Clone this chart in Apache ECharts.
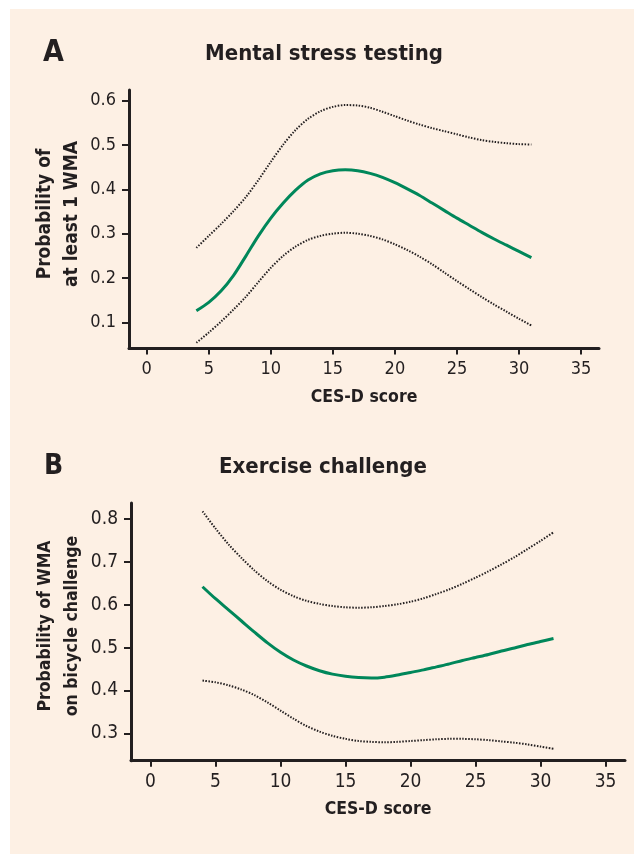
<!DOCTYPE html>
<html><head><meta charset="utf-8">
<script src="https://cdn.jsdelivr.net/npm/echarts@6/dist/echarts.min.js"></script>
<style>
html,body{margin:0;padding:0;background:#fff;}
#bg{position:absolute;left:10px;top:9px;width:624px;height:845px;background:#fdf0e4;}
#chart{position:absolute;left:0;top:0;width:634px;height:854px;}
</style></head><body>
<div id="bg"></div><div id="chart"></div>
<script>
const xTicks = [0, 5, 10, 15, 20, 25, 30, 35];
const yTicksA = [0.1, 0.2, 0.3, 0.4, 0.5, 0.6];
const yTicksB = [0.3, 0.4, 0.5, 0.6, 0.7, 0.8];
const cesd = [4, 5, 6, 7, 8, 9, 10, 11, 12, 13, 14, 15, 16, 17, 18, 19, 20, 21, 22, 23, 24, 25, 26, 27, 28, 29, 30, 31];
// Panel A: Mental stress testing
const upperA = [0.268, 0.295, 0.322, 0.351, 0.383, 0.421, 0.462, 0.501, 0.534, 0.559, 0.576, 0.586, 0.590, 0.589, 0.584, 0.575, 0.565, 0.555, 0.546, 0.538, 0.531, 0.524, 0.517, 0.511, 0.507, 0.504, 0.502, 0.501];
const probA  = [0.126, 0.145, 0.171, 0.206, 0.250, 0.295, 0.335, 0.369, 0.398, 0.421, 0.435, 0.442, 0.444, 0.442, 0.436, 0.427, 0.415, 0.401, 0.386, 0.369, 0.352, 0.335, 0.319, 0.303, 0.288, 0.274, 0.260, 0.246];
const lowerA = [0.054, 0.077, 0.102, 0.129, 0.158, 0.191, 0.223, 0.250, 0.271, 0.286, 0.295, 0.300, 0.302, 0.300, 0.295, 0.287, 0.276, 0.263, 0.248, 0.231, 0.212, 0.193, 0.175, 0.157, 0.140, 0.124, 0.108, 0.093];
// Panel B: Exercise challenge
const upperB = [0.818, 0.778, 0.741, 0.709, 0.680, 0.655, 0.635, 0.620, 0.609, 0.602, 0.597, 0.594, 0.593, 0.594, 0.597, 0.601, 0.607, 0.615, 0.625, 0.636, 0.649, 0.663, 0.678, 0.694, 0.711, 0.730, 0.749, 0.769];
const probB  = [0.642, 0.614, 0.588, 0.562, 0.536, 0.511, 0.489, 0.471, 0.457, 0.446, 0.438, 0.433, 0.430, 0.429, 0.431, 0.436, 0.442, 0.448, 0.455, 0.462, 0.470, 0.477, 0.484, 0.492, 0.499, 0.507, 0.514, 0.521];
const lowerB = [0.423, 0.419, 0.412, 0.402, 0.389, 0.372, 0.353, 0.334, 0.317, 0.304, 0.294, 0.287, 0.282, 0.280, 0.279, 0.280, 0.282, 0.284, 0.286, 0.287, 0.287, 0.286, 0.284, 0.281, 0.278, 0.274, 0.269, 0.264];

const FONT = '"Liberation Sans Narrow", "DejaVu Sans Condensed", "Liberation Sans", sans-serif';
const INK = '#231f20';
const GREEN = '#00875a';

function pts(xs, ys) { return xs.map((x, i) => [x, ys[i]]); }

function xAxisCfg(gi, min, max, fs) {
  return {
    type: 'value', gridIndex: gi, min: min, max: max,
    axisLine: { show: true, onZero: false, lineStyle: { color: INK, width: 3 } },
    axisTick: { show: true, customValues: xTicks, length: 6, lineStyle: { color: INK, width: 2 } },
    axisLabel: { customValues: xTicks, margin: 12, fontSize: fs, color: INK, fontFamily: FONT },
    splitLine: { show: false },
    name: 'CES-D score', nameLocation: 'middle', nameGap: 40,
    nameTextStyle: { fontWeight: 'bold', fontSize: 17.5, color: INK, fontFamily: FONT }
  };
}
function yAxisCfg(gi, min, max, ticks, fs) {
  return {
    type: 'value', gridIndex: gi, min: min, max: max,
    axisLine: { show: true, onZero: false, lineStyle: { color: INK, width: 3 } },
    axisTick: { show: true, customValues: ticks, length: 7, lineStyle: { color: INK, width: 2 } },
    axisLabel: { customValues: ticks, margin: 13, fontSize: fs, color: INK, fontFamily: FONT,
      formatter: v => v.toFixed(1) },
    splitLine: { show: false }
  };
}
function line(gi, data, dotted) {
  return {
    type: 'line', xAxisIndex: gi, yAxisIndex: gi, data: data, smooth: 0.3,
    showSymbol: false, symbol: 'none', silent: true,
    lineStyle: dotted ? { color: INK, width: 2, type: [1.5, 1.5] } : { color: GREEN, width: 3 }
  };
}

const chart = echarts.init(document.getElementById('chart'), null, { renderer: 'canvas' });
chart.setOption({
  backgroundColor: 'transparent',
  animation: false,
  grid: [
    { left: 129, top: 90, width: 470, height: 258.5 },
    { left: 131, top: 503, width: 494, height: 257.7 }
  ],
  xAxis: [ xAxisCfg(0, -1.43, 36.45, 18), xAxisCfg(1, -1.5, 36.5, 19) ],
  yAxis: [ yAxisCfg(0, 0.041, 0.624, yTicksA, 18), yAxisCfg(1, 0.236, 0.8374, yTicksB, 19) ],
  series: [
    line(0, pts(cesd, upperA), true),
    line(0, pts(cesd, lowerA), true),
    line(0, pts(cesd, probA), false),
    line(1, pts(cesd, upperB), true),
    line(1, pts(cesd, lowerB), true),
    line(1, pts(cesd, probB), false)
  ],
  graphic: [
    { type: 'text', left: 43, top: 38, style: { text: 'A', font: 'bold 30px ' + FONT, fill: INK } },
    { type: 'text', x: 324, y: 54, style: { text: 'Mental stress testing', font: 'bold 22px ' + FONT, fill: INK, align: 'center', verticalAlign: 'middle' } },
    { type: 'text', left: 44, top: 453, style: { text: 'B', font: 'bold 28px ' + FONT, fill: INK } },
    { type: 'text', x: 323, y: 467, style: { text: 'Exercise challenge', font: 'bold 22px ' + FONT, fill: INK, align: 'center', verticalAlign: 'middle' } },
    { type: 'text', x: 58.5, y: 214, rotation: Math.PI / 2,
      style: { text: 'Probability of\nat least 1 WMA', font: 'bold 19px ' + FONT, lineHeight: 27, fill: INK, align: 'center', verticalAlign: 'middle' } },
    { type: 'text', x: 59, y: 626, rotation: Math.PI / 2,
      style: { text: 'Probability of WMA\non bicycle challenge', font: 'bold 17.5px ' + FONT, lineHeight: 27, fill: INK, align: 'center', verticalAlign: 'middle' } }
  ]
});
</script>
</body></html>
